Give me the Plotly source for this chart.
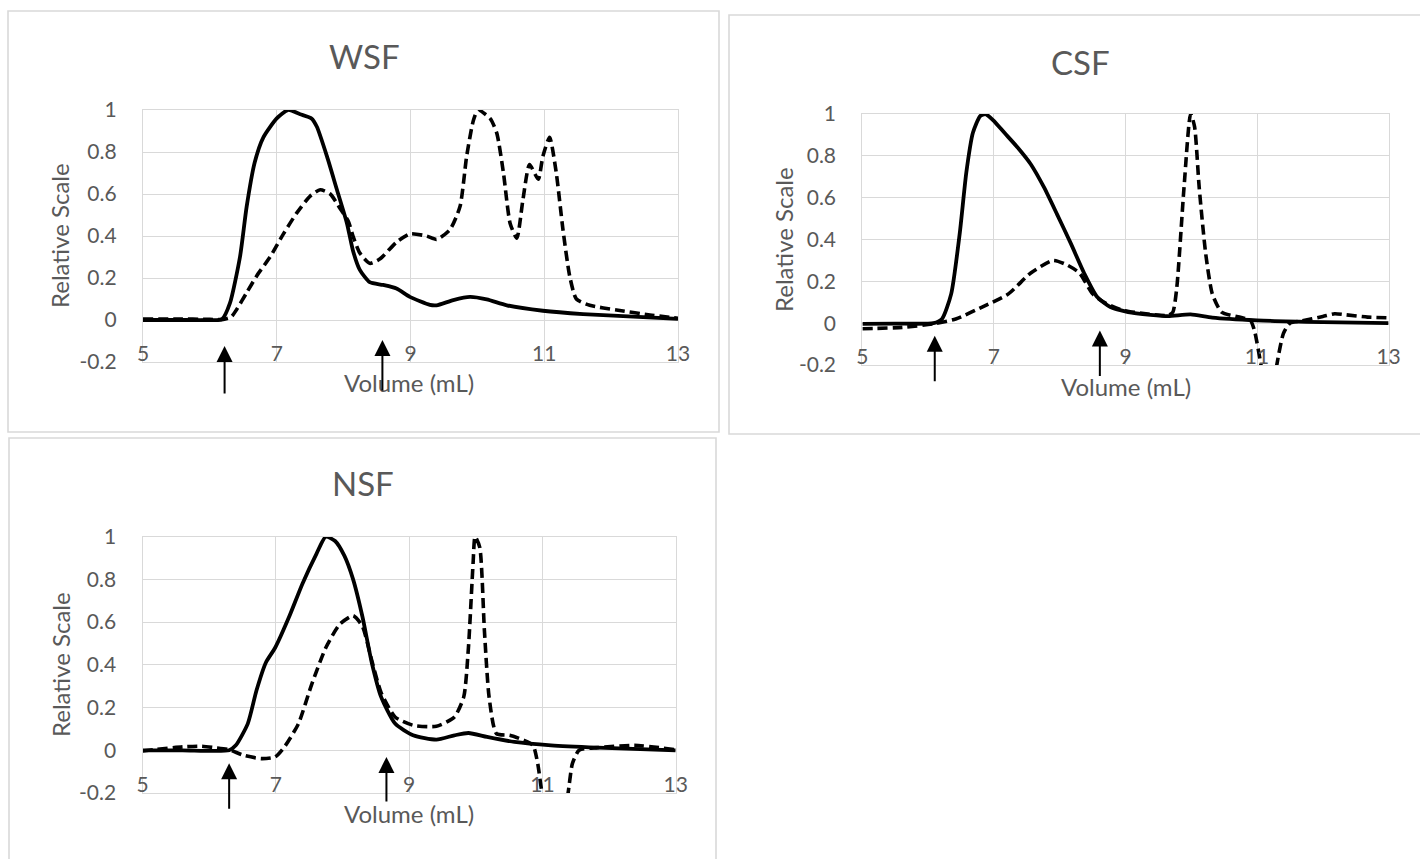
import plotly.graph_objects as go

# ---------------- data ----------------
wsf_solid_x = [5.0, 5.5, 6.0, 6.18, 6.3, 6.45, 6.55, 6.67, 6.80, 7.0, 7.17, 7.35, 7.52, 7.60, 7.75, 7.90, 8.05, 8.14,
               8.24, 8.39, 8.59, 8.79, 8.99, 9.29, 9.39, 9.64, 9.89, 10.14, 10.44, 10.98, 11.58, 12.33, 13.0]
wsf_solid_y = [0.0, 0.0, 0.0, 0.003, 0.08, 0.30, 0.54, 0.75, 0.87, 0.96, 1.0, 0.98, 0.96, 0.92, 0.78, 0.62, 0.46, 0.33,
               0.24, 0.18, 0.167, 0.15, 0.11, 0.072, 0.07, 0.095, 0.11, 0.098, 0.07, 0.044, 0.028, 0.016, 0.005]
wsf_dash_x = [5.0, 5.5, 6.0, 6.2, 6.32, 6.40, 6.55, 6.70, 6.90, 7.10, 7.30, 7.50, 7.65, 7.80, 7.95, 8.07, 8.14, 8.24,
              8.39, 8.54, 8.79, 8.99, 9.24, 9.39, 9.59, 9.74, 9.84, 9.94, 10.01, 10.19, 10.29, 10.39, 10.49, 10.59,
              10.68, 10.78, 10.91, 10.98, 11.08, 11.18, 11.28, 11.38, 11.48, 11.68, 12.08, 12.58, 13.0]
wsf_dash_y = [0.005, 0.005, 0.003, 0.003, 0.015, 0.05, 0.13, 0.21, 0.30, 0.41, 0.51, 0.59, 0.62, 0.60, 0.53, 0.47, 0.40,
              0.32, 0.27, 0.29, 0.37, 0.41, 0.40, 0.384, 0.43, 0.54, 0.78, 0.95, 1.0, 0.96, 0.89, 0.70, 0.46, 0.39,
              0.57, 0.74, 0.67, 0.78, 0.87, 0.70, 0.43, 0.21, 0.10, 0.07, 0.048, 0.024, 0.008]

csf_solid_x = [5.0, 5.5, 6.08, 6.21, 6.35, 6.48, 6.58, 6.68, 6.79, 6.87, 6.99, 7.16, 7.36, 7.56, 7.76, 7.96, 8.17, 8.37,
               8.57, 8.77, 9.04, 9.38, 9.65, 9.99, 10.32, 11.0, 12.0, 13.0]
csf_solid_y = [-0.003, -0.002, 0.0, 0.02, 0.14, 0.43, 0.72, 0.91, 0.99, 1.0, 0.97, 0.91, 0.84, 0.76, 0.65, 0.52, 0.38,
               0.24, 0.125, 0.077, 0.053, 0.04, 0.034, 0.042, 0.026, 0.013, 0.005, 0.0]
csf_dash_x = [5.0, 5.61, 6.08, 6.42, 6.82, 7.22, 7.56, 7.90, 8.10, 8.30, 8.50, 8.71, 8.98, 9.31, 9.65, 9.72, 9.78, 9.89,
              9.99, 10.05, 10.12, 10.22, 10.32, 10.46, 10.73, 10.90, 10.96, 11.06, 11.18, 11.30, 11.40, 11.50, 11.67,
              12.0, 12.18, 12.35, 12.68, 13.0]
csf_dash_y = [-0.027, -0.02, -0.003, 0.02, 0.077, 0.14, 0.24, 0.30, 0.28, 0.24, 0.14, 0.093, 0.06, 0.045, 0.037, 0.053,
              0.17, 0.65, 1.0, 0.94, 0.65, 0.33, 0.14, 0.053, 0.029, 0.013, -0.035, -0.2, -0.45, -0.2, -0.05, 0.0, 0.01,
              0.032, 0.045, 0.04, 0.029, 0.026]

nsf_solid_x = [5.0, 5.6, 6.30, 6.40, 6.58, 6.71, 6.85, 6.99, 7.20, 7.40, 7.61, 7.75, 7.89, 8.03, 8.16, 8.30, 8.44, 8.58,
               8.79, 9.06, 9.41, 9.68, 9.89, 10.17, 10.58, 11.13, 11.83, 13.0]
nsf_solid_y = [0.0, 0.0, 0.0, 0.023, 0.125, 0.28, 0.41, 0.48, 0.625, 0.78, 0.92, 1.0, 0.98, 0.91, 0.80, 0.625, 0.41,
               0.25, 0.125, 0.07, 0.05, 0.07, 0.081, 0.0625, 0.039, 0.023, 0.0125, 0.0]
nsf_dash_x = [5.0, 5.61, 5.88, 6.09, 6.30, 6.51, 6.78, 6.99, 7.13, 7.34, 7.54, 7.75, 7.96, 8.16, 8.30, 8.44, 8.58, 8.79,
              9.06, 9.41, 9.68, 9.82, 9.89, 9.96, 9.99, 10.06, 10.13, 10.20, 10.31, 10.51, 10.72, 10.86, 10.93, 11.0,
              11.2, 11.38, 11.45, 11.55, 11.83, 12.38, 13.0]
nsf_dash_y = [-0.003, 0.016, 0.019, 0.012, 0.003, -0.023, -0.039, -0.031, 0.016, 0.125, 0.31, 0.48, 0.59, 0.63, 0.58,
              0.42, 0.27, 0.156, 0.117, 0.1125, 0.156, 0.25, 0.48, 0.875, 1.0, 0.95, 0.56, 0.25, 0.078, 0.07, 0.047,
              0.023, -0.0625, -0.21, -0.45, -0.21, -0.0625, 0.0, 0.0125, 0.023, 0.003]

panel_titles = ["WSF", "CSF", "NSF"]
x_tick_vals = [5, 7, 9, 11, 13]
x_tick_text = ["5", "7", "9", "11", "13"]
y_tick_vals = [-0.2, 0, 0.2, 0.4, 0.6, 0.8, 1]
y_tick_text = ["-0.2", "0", "0.2", "0.4", "0.6", "0.8", "1"]
x_title = "Volume (mL)"
y_title = "Relative Scale"

# arrow markers: x position, tip y
wsf_arrow_x = [6.22, 8.58]
wsf_arrow_tip = [-0.124, -0.095]
csf_arrow_x = [6.10, 8.61]
csf_arrow_tip = [-0.06, -0.035]
nsf_arrow_x = [6.30, 8.66]
nsf_arrow_tip = [-0.061, -0.031]

# ---------------- layout geometry (pixels) ----------------
W, H = 1420, 859
FONT = "Lato"
GREY = "#595959"
GRID = "#d9d9d9"

# plot areas: (left, right, top, bottom)
areas = [(143, 678, 110, 362), (862.4, 1388.6, 114, 365), (142.5, 675.7, 536.7, 793)]
# chart borders
borders = [(8, 719, 11, 432), (729, 1440, 15, 434), (9, 716, 438, 880)]
title_pos = [(364, 56), (1080, 62), (363, 483)]
xt_pos = [(409, 383), (1126, 387), (409, 813)]
yt_pos = [(59, 236), (783, 240), (60, 665)]
arrow_tails = [[49, 52], [47, 47], [47, 46]]


def px(x):
    return x / W


def py(y):
    return 1 - y / H


fig = go.Figure()

series = [
    (wsf_solid_x, wsf_solid_y, wsf_dash_x, wsf_dash_y),
    (csf_solid_x, csf_solid_y, csf_dash_x, csf_dash_y),
    (nsf_solid_x, nsf_solid_y, nsf_dash_x, nsf_dash_y),
]

for i, (sx, sy, dx, dy) in enumerate(series):
    xa = "x" if i == 0 else f"x{i+1}"
    ya = "y" if i == 0 else f"y{i+1}"
    fig.add_trace(go.Scatter(x=dx, y=dy, mode="lines", xaxis=xa, yaxis=ya,
                             line=dict(color="black", width=3.6, dash="10px,5px", shape="spline", smoothing=0.6),
                             hoverinfo="skip", showlegend=False))
    fig.add_trace(go.Scatter(x=sx, y=sy, mode="lines", xaxis=xa, yaxis=ya,
                             line=dict(color="black", width=3.8, shape="spline", smoothing=0.6),
                             hoverinfo="skip", showlegend=False))

layout = dict(width=W, height=H, margin=dict(l=0, r=0, t=0, b=0, autoexpand=False),
              paper_bgcolor="white", plot_bgcolor="white", showlegend=False,
              font=dict(family=FONT, color=GREY))

annotations = []
shapes = []
arrows = [(wsf_arrow_x, wsf_arrow_tip), (csf_arrow_x, csf_arrow_tip), (nsf_arrow_x, nsf_arrow_tip)]

for i, (l, r, t, b) in enumerate(areas):
    xk = "xaxis" if i == 0 else f"xaxis{i+1}"
    yk = "yaxis" if i == 0 else f"yaxis{i+1}"
    yanchor = "y" if i == 0 else f"y{i+1}"
    xanchor = "x" if i == 0 else f"x{i+1}"
    layout[xk] = dict(domain=[px(l), px(r)], anchor=yanchor, range=[5, 13], automargin=False,
                      tickvals=x_tick_vals, ticktext=x_tick_text,
                      showgrid=True, gridcolor=GRID, gridwidth=1.3, zeroline=False,
                      showline=True, linecolor=GRID, linewidth=1.3, mirror=True,
                      ticks="", ticklabelstandoff=-27,
                      tickfont=dict(family=FONT, size=21, color=GREY), fixedrange=True)
    layout[yk] = dict(domain=[py(b), py(t)], anchor=xanchor, range=[-0.2, 1], automargin=False,
                      tickvals=y_tick_vals, ticktext=y_tick_text,
                      showgrid=True, gridcolor=GRID, gridwidth=1.3, zeroline=False,
                      showline=True, linecolor=GRID, linewidth=1.3, mirror=True,
                      ticks="", ticklabelstandoff=21,
                      tickfont=dict(family=FONT, size=21, color=GREY), fixedrange=True)

    bx0, bx1, by0, by1 = borders[i]
    shapes.append(dict(type="rect", xref="paper", yref="paper", x0=px(bx0), x1=px(bx1), y0=py(by1), y1=py(by0),
                       line=dict(color=GRID, width=1.6), layer="below"))

    tx, ty = title_pos[i]
    annotations.append(dict(text=panel_titles[i], xref="paper", yref="paper", x=px(tx), y=py(ty),
                            xanchor="center", yanchor="middle", showarrow=False,
                            font=dict(family=FONT, size=33, color=GREY)))
    ax_, ay_ = xt_pos[i]
    annotations.append(dict(text=x_title, xref="paper", yref="paper", x=px(ax_), y=py(ay_),
                            xanchor="center", yanchor="middle", showarrow=False,
                            font=dict(family=FONT, size=24, color=GREY)))
    yx_, yy_ = yt_pos[i]
    annotations.append(dict(text=y_title, xref="paper", yref="paper", x=px(yx_), y=py(yy_),
                            xanchor="center", yanchor="middle", showarrow=False, textangle=-90,
                            font=dict(family=FONT, size=24, color=GREY)))

    axs, tips = arrows[i]
    for j in range(2):
        annotations.append(dict(text="", x=axs[j], y=tips[j], xref=xanchor, yref=yanchor,
                                showarrow=True, arrowhead=2, arrowsize=1.6, arrowwidth=2,
                                arrowcolor="black", ax=0, ay=arrow_tails[i][j], standoff=0))

layout["annotations"] = annotations
layout["shapes"] = shapes
fig.update_layout(**layout)

fig.write_html("out.html", config={"displayModeBar": False},
               post_script="document.body.style.margin='0';document.body.style.padding='0';"
                           "document.documentElement.style.overflow='hidden';")
